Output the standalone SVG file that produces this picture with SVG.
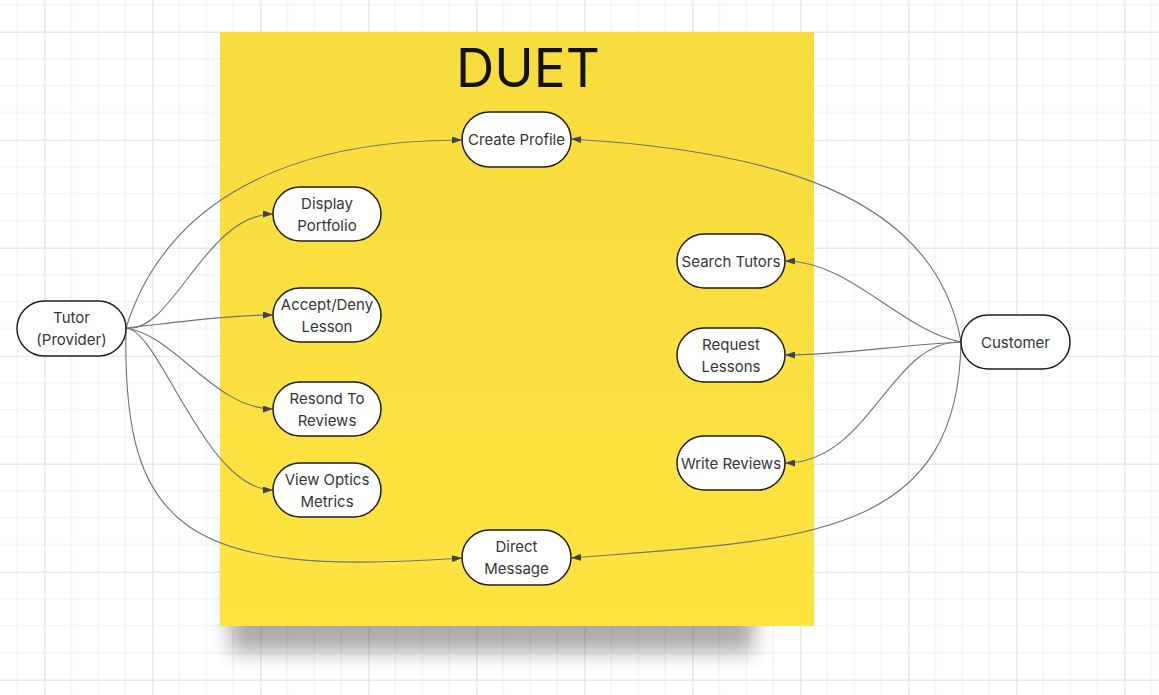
<svg xmlns="http://www.w3.org/2000/svg" width="1159" height="695" viewBox="0 0 1159 695">
  <defs>
    <pattern id="grid" patternUnits="userSpaceOnUse" x="44.3" y="31.7" width="108" height="108">
      <path d="M27 0V108M54 0V108M81 0V108M0 27H108M0 54H108M0 81H108" stroke="#ededed" stroke-width="1" fill="none"/>
      <path d="M0.5 0V108M0 0.5H108" stroke="#e0e0e0" stroke-width="1.2" fill="none"/>
    </pattern>
    <linearGradient id="yellow" x1="0" y1="0" x2="0" y2="1">
      <stop offset="0" stop-color="#F8DC3E"/>
      <stop offset="1" stop-color="#FFE340"/>
    </linearGradient>
    <filter id="blur" x="-20%" y="-50%" width="140%" height="200%">
      <feGaussianBlur stdDeviation="10"/>
    </filter>
    <marker id="arrow" markerUnits="userSpaceOnUse" markerWidth="10" markerHeight="7" refX="10" refY="3.5" orient="auto">
      <path d="M0,0 L10,3.5 L0,7 z" fill="#3b4250"/>
    </marker>
    <style>
      .node rect { fill: #ffffff; stroke: #1e1e1e; stroke-width: 1.5; }
      .node text { font-family: Inter, "Liberation Sans", sans-serif; font-size: 15px; fill: #363636; text-anchor: middle; }
      .edge { fill: none; stroke: #6f737b; stroke-width: 1.1; marker-end: url(#arrow); }
      .title { font-family: Inter, "Liberation Sans", sans-serif; font-size: 53px; fill: #111111; text-anchor: middle; }
    </style>
  </defs>

  <rect x="0" y="0" width="1159" height="695" fill="#ffffff"/>
  <rect x="0" y="0" width="1159" height="695" fill="url(#grid)"/>

  <g id="board">
    <rect x="230" y="520" width="524" height="132" fill="#000" opacity="0.32" filter="url(#blur)"/>
    <rect x="220" y="32" width="594" height="594" fill="url(#yellow)"/>
    <text class="title" x="528" y="87">DUET</text>
  </g>

  <g id="connectors">
    <path class="edge" d="M126,328 C160,220 260,140 462,140"/>
    <path class="edge" d="M126,328 C172,335 205,214 273,214"/>
    <path class="edge" d="M126,328 C180,322 230,315 273,315"/>
    <path class="edge" d="M126,328 C175,335 215,409 273,409"/>
    <path class="edge" d="M126,328 C160,330 205,490 273,490"/>
    <path class="edge" d="M126,328 C122,530 185,578 462,558"/>
    <path class="edge" d="M961,342 C935,190 760,150 571,139"/>
    <path class="edge" d="M961,342 C900,330 850,261 785,261"/>
    <path class="edge" d="M961,342 C900,345 840,355 785,355"/>
    <path class="edge" d="M961,342 C890,340 870,463 785,463"/>
    <path class="edge" d="M961,342 C958,540 800,540 571,558"/>
  </g>

  <g id="tutor" class="node">
    <rect x="17" y="301" width="109" height="55" rx="27.5"/>
    <text x="71.5" y="323">Tutor</text>
    <text x="71.5" y="345">(Provider)</text>
  </g>
  <g id="create-profile" class="node">
    <rect x="462" y="112" width="109" height="55" rx="27.5"/>
    <text x="516.5" y="145">Create Profile</text>
  </g>
  <g id="display-portfolio" class="node">
    <rect x="273" y="187" width="108" height="54" rx="27"/>
    <text x="327" y="208.5">Display</text>
    <text x="327" y="230.5">Portfolio</text>
  </g>
  <g id="accept-deny" class="node">
    <rect x="273" y="288" width="108" height="54" rx="27"/>
    <text x="327" y="309.5">Accept/Deny</text>
    <text x="327" y="331.5">Lesson</text>
  </g>
  <g id="respond-reviews" class="node">
    <rect x="273" y="382" width="108" height="54" rx="27"/>
    <text x="327" y="403.5">Resond To</text>
    <text x="327" y="425.5">Reviews</text>
  </g>
  <g id="view-optics" class="node">
    <rect x="273" y="463" width="108" height="54" rx="27"/>
    <text x="327" y="484.5">View Optics</text>
    <text x="327" y="506.5">Metrics</text>
  </g>
  <g id="direct-message" class="node">
    <rect x="462" y="530" width="109" height="55" rx="27.5"/>
    <text x="516.5" y="552">Direct</text>
    <text x="516.5" y="574">Message</text>
  </g>
  <g id="search-tutors" class="node">
    <rect x="677" y="234" width="108" height="54" rx="27"/>
    <text x="731" y="266.5">Search Tutors</text>
  </g>
  <g id="request-lessons" class="node">
    <rect x="677" y="328" width="108" height="54" rx="27"/>
    <text x="731" y="349.5">Request</text>
    <text x="731" y="371.5">Lessons</text>
  </g>
  <g id="write-reviews" class="node">
    <rect x="677" y="436" width="108" height="54" rx="27"/>
    <text x="731" y="468.5">Write Reviews</text>
  </g>
  <g id="customer" class="node">
    <rect x="961" y="315" width="109" height="54" rx="27"/>
    <text x="1015.5" y="347.5">Customer</text>
  </g>
</svg>
